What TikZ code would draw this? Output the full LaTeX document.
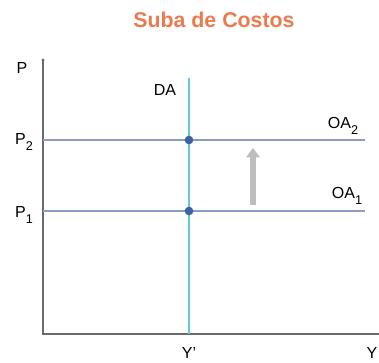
\documentclass[tikz,border=0pt]{standalone}
\usepackage{fontspec}
\setmainfont{Liberation Sans}
\usetikzlibrary{arrows.meta}
\definecolor{titleorange}{HTML}{EC7A4F}
\definecolor{axisgray}{HTML}{6B6B6B}
\definecolor{supplyblue}{HTML}{8C9DC2}
\definecolor{demandcyan}{HTML}{62C9D6}
\definecolor{dotblue}{HTML}{3F62A6}
\definecolor{shiftgray}{HTML}{BDBDBD}
\newcommand{\lowsub}[1]{\raisebox{-0.4em}{\fontsize{9.5}{10}\selectfont #1}}
\tikzset{
  axis/.style={line width=1.6pt, color=axisgray},
  supply/.style={line width=1.1pt, color=supplyblue},
  demand/.style={line width=1.1pt, color=demandcyan},
  lbl/.style={font=\fontsize{12}{14}\selectfont, inner sep=0pt},
  eqdot/.style={circle, fill=dotblue, inner sep=0pt, minimum size=6.5pt}
}
\begin{document}
\begin{tikzpicture}[x=0.75pt, y=-0.75pt]
    \useasboundingbox (0,0) rectangle (379,362);
    % Title
    \node[font=\bfseries\fontsize{16}{18}\selectfont, text=titleorange] (title) at (214,20) {Suba de Costos};
    % Axes
    \coordinate (O) at (43,334);
    \coordinate (ptop) at (43,60);
    \coordinate (yend) at (381,334);
    \draw[axis] (ptop) -- (O) -- (yend);
    \fill[axisgray] (ptop) circle (1.3pt);
    \node[lbl] (P) at (22,68) {P};
    \node[lbl] (Ylbl) at (372,353) {Y};
    % Supply lines
    \coordinate (p2s) at (43,140);
    \coordinate (p2e) at (365,140);
    \coordinate (p1s) at (43,211);
    \coordinate (p1e) at (365,211);
    \draw[supply] (p2s) -- (p2e);
    \draw[supply] (p1s) -- (p1e);
    \node[lbl, anchor=base] (P2) at (24,144) {P\lowsub{2}};
    \node[lbl, anchor=base] (P1) at (24,217) {P\lowsub{1}};
    \node[lbl, anchor=base] (OA2) at (343,128) {OA\lowsub{2}};
    \node[lbl, anchor=base] (OA1) at (347,198) {OA\lowsub{1}};
    % Demand line
    \coordinate (datop) at (189,78);
    \coordinate (dabot) at (189,334);
    \draw[demand] (datop) -- (dabot);
    \node[lbl] (DA) at (165,90) {DA};
    \node[lbl] (Yprime) at (189,353) {Y’};
    % Equilibria
    \node[eqdot] (e2) at (189,140) {};
    \node[eqdot] (e1) at (189,211) {};
    % Shift arrow
    \coordinate (arrbot) at (253,205);
    \coordinate (arrtop) at (253,148);
    \draw[shiftgray, line width=5pt, -{Triangle[length=7pt, width=10pt]}] (arrbot) -- (arrtop);
\end{tikzpicture}
\end{document}
